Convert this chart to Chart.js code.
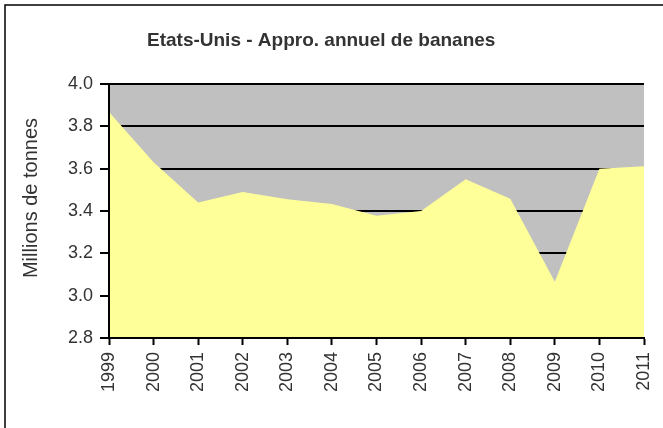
<!DOCTYPE html>
<html>
<head>
<meta charset="utf-8">
<script src="https://cdn.jsdelivr.net/npm/chart.js@4"></script>
<style>
    html, body { margin: 0; padding: 0; background: #fff; }
    #wrap { width: 663px; height: 428px; }
</style>
</head>
<body>
<div id="wrap"><canvas id="chart" width="663" height="428"></canvas></div>
<script>
const years = ["1999", "2000", "2001", "2002", "2003", "2004", "2005", "2006", "2007", "2008", "2009", "2010", "2011"];
const supplyMt = [3.868, 3.63, 3.44, 3.49, 3.455, 3.433, 3.378, 3.40, 3.55, 3.458, 3.066, 3.60, 3.612];
const yTicks = [2.8, 3.0, 3.2, 3.4, 3.6, 3.8, 4.0];

const chartTitle = "Etats-Unis - Appro. annuel de bananes";
const yTitle = "Millions de tonnes";

const textColor = "#333";
const fontFamily = "'Liberation Sans', Arial, sans-serif";

// gray plot background, outer frame, and the two titles
const decorations = {
    id: "decorations",
    beforeDraw(chart) {
        const { ctx, chartArea } = chart;
        ctx.save();
        ctx.fillStyle = "#c0c0c0";
        ctx.fillRect(chartArea.left, chartArea.top, chartArea.right - chartArea.left, chartArea.bottom - chartArea.top);
        ctx.strokeStyle = "#000";
        ctx.lineWidth = 1.5;
        ctx.strokeRect(5, 5, 700, 500);
        ctx.restore();
    },
    afterDraw(chart) {
        const { ctx } = chart;
        ctx.save();
        ctx.fillStyle = textColor;
        ctx.textAlign = "left";
        ctx.textBaseline = "alphabetic";
        ctx.font = "bold 19px " + fontFamily;
        ctx.fillText(chartTitle, 147, 46);
        ctx.translate(31, 198);
        ctx.rotate(-Math.PI / 2);
        ctx.textAlign = "center";
        ctx.textBaseline = "middle";
        ctx.font = "20px " + fontFamily;
        ctx.fillText(yTitle, 0, 0);
        ctx.restore();
    },
};

new Chart(document.getElementById("chart"), {
    type: "line",
    data: {
        labels: years,
        datasets: [
            {
                label: "Appro. annuel",
                data: supplyMt,
                fill: "start",
                backgroundColor: "#ffff99",
                borderWidth: 0,
                pointRadius: 0,
                tension: 0,
            },
        ],
    },
    options: {
        responsive: false,
        animation: false,
        layout: {
            padding: { left: 8, top: 84, right: 19, bottom: 0 },
        },
        plugins: {
            legend: { display: false },
            tooltip: { enabled: false },
        },
        scales: {
            x: {
                offset: false,
                afterFit: (scale) => {
                    scale.height = 90;
                    scale.paddingLeft = 0;
                    scale.paddingRight = 0;
                },
                grid: {
                    drawOnChartArea: false,
                    drawTicks: true,
                    tickLength: 7,
                    tickColor: "#000",
                    tickWidth: 2,
                },
                border: { display: true, color: "#000", width: 2, z: 1 },
                ticks: {
                    autoSkip: false,
                    maxRotation: 90,
                    minRotation: 90,
                    padding: 7,
                    color: textColor,
                    font: { family: fontFamily, size: 18 },
                },
            },
            y: {
                min: 2.8,
                max: 4.0,
                afterFit: (scale) => {
                    scale.width = 101;
                    scale.paddingTop = 0;
                    scale.paddingBottom = 0;
                },
                afterBuildTicks: (scale) => {
                    scale.ticks = yTicks.map((v) => ({ value: v }));
                },
                grid: {
                    color: "#000",
                    lineWidth: 2,
                    drawTicks: true,
                    tickLength: 9,
                    tickColor: "#000",
                    tickWidth: 2,
                },
                border: { display: true, color: "#000", width: 2, z: 1 },
                ticks: {
                    padding: 7,
                    color: textColor,
                    font: { family: fontFamily, size: 18 },
                    callback: (value) => Number(value).toFixed(1),
                },
            },
        },
    },
    plugins: [decorations],
});
</script>
</body>
</html>
